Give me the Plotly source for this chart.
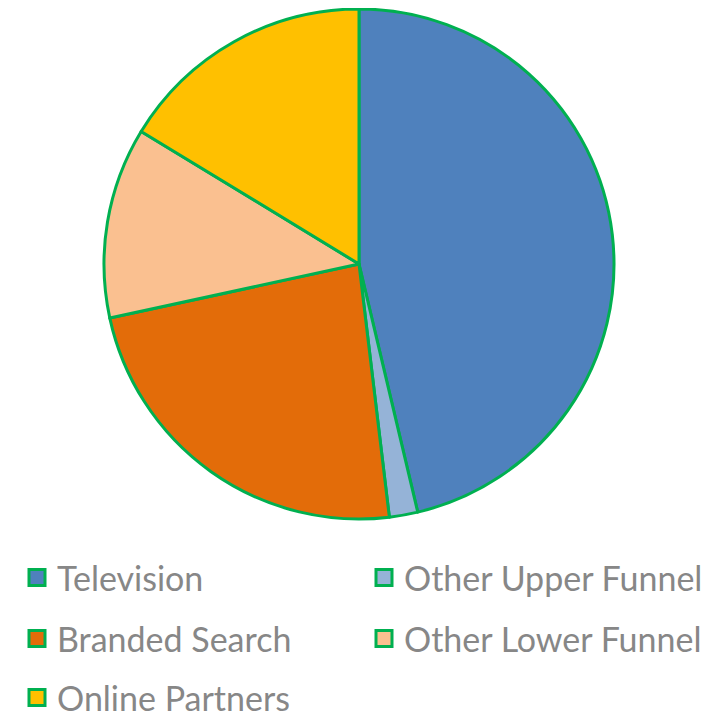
import plotly.graph_objects as go

labels = ["Television", "Other Upper Funnel", "Branded Search", "Other Lower Funnel", "Online Partners"]
values = [46.3, 1.8, 23.5, 12.1, 16.3]
colors = ["#4F81BD", "#95B3D7", "#E36C09", "#FAC090", "#FFC000"]

EDGE = "#00B050"
W, H = 710, 712
fig = go.Figure(go.Pie(
    labels=labels, values=values, sort=False, direction="clockwise", rotation=0,
    marker=dict(colors=colors, line=dict(color=EDGE, width=3)),
    textinfo="none", showlegend=False,
    domain=dict(x=[96 / W, 606 / W], y=[1 - 511 / H, 1 - 1 / H]),
))

# legend entries (two per row, three rows)
legend_names = ["legend", "legend", "legend2", "legend2", "legend3"]
for lab, col, lg in zip(labels, colors, legend_names):
    fig.add_trace(go.Scatter(
        x=[None], y=[None], mode="markers", name=lab, legend=lg,
        marker=dict(symbol="square", size=16, color=col, line=dict(color=EDGE, width=3)),
    ))

row_y = [1 - 570 / H, 1 - 631 / H, 1 - 690 / H]
lfont = dict(family="Lato, Liberation Sans, sans-serif", size=34, color="#878787")
common = dict(orientation="h", x=9 / W, xanchor="left", yanchor="middle",
              entrywidth=302, entrywidthmode="pixels", font=lfont,
              bgcolor="rgba(0,0,0,0)")
fig.update_layout(
    width=W, height=H, margin=dict(l=0, r=0, t=0, b=0, autoexpand=False),
    paper_bgcolor="white", plot_bgcolor="white",
    xaxis=dict(visible=False), yaxis=dict(visible=False),
    legend=dict(y=row_y[0], **common),
    legend2=dict(y=row_y[1], **common),
    legend3=dict(y=row_y[2], **common),
)
fig.write_html("out.html")
